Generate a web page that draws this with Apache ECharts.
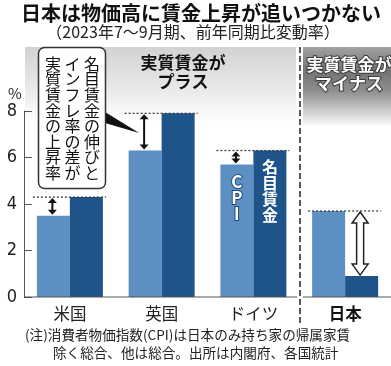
<!DOCTYPE html>
<html><head><meta charset="utf-8">
<script src="https://cdn.jsdelivr.net/npm/echarts@6/dist/echarts.min.js"></script>
<style>html,body{margin:0;padding:0;background:#fff}#c{width:391px;height:366px}</style>
</head><body><div id="c"></div>
<script>
const categories = ['米国', '英国', 'ドイツ', '日本'];
const cpi = [3.5, 6.3, 5.7, 3.7];
const nominal = [4.3, 7.9, 6.3, 0.9];
const yTicks = [0, 2, 4, 6, 8];
const titleText = '日本は物価高に賃金上昇が追いつかない';
const subtitleText = '（2023年7～9月期、前年同期比変動率）';
const noteLine1 = '(注)消費者物価指数(CPI)は日本のみ持ち家の帰属家賃';
const noteLine2 = '除く総合、他は総合。出所は内閣府、各国統計';
const plusHeader = '実質賃金が\nプラス';
const minusHeader = '実質賃金が\nマイナス';
const calloutCols = ['名目賃金の伸びと', 'インフレ率の差が', '実質賃金の上昇率'];

const LIGHT = '#5e8fc3';
const DARK = '#1e5489';
const FONT = '"Noto Sans CJK JP", "Noto Sans", sans-serif';

const chart = echarts.init(document.getElementById('c'), null, {renderer: 'canvas'});

const cpiData = cpi.map((v, i) => i === 2 ? {value: v, label: {show: true, formatter: 'C\nP\nI', position: 'insideTop', distance: 9, color: '#fff', fontWeight: 'bold', fontSize: 17, lineHeight: 16, fontFamily: FONT, textBorderColor: '#1c4a7a', textBorderWidth: 2}} : v);
const nomData = nominal.map((v, i) => i === 2 ? {value: v, label: {show: true, formatter: '名\n目\n賃\n金', position: 'insideTop', distance: 8, color: '#fff', fontWeight: 'bold', fontSize: 16, lineHeight: 16, fontFamily: FONT}} : v);

const option = {
  animation: false,
  backgroundColor: '#fff',
  textStyle: {fontFamily: FONT},
  grid: {left: 24, top: 111, width: 370, height: 186, containLabel: false},
  xAxis: {
    type: 'category', data: categories,
    axisLine: {show: false}, axisTick: {show: false},
    axisLabel: {
      margin: 8, fontSize: 16.5, color: '#222', fontFamily: FONT,
      formatter: v => v === '日本' ? '{b|' + v + '}' : v,
      rich: {b: {fontWeight: 'bold', fontSize: 16.5, color: '#111', fontFamily: FONT}}
    }
  },
  yAxis: {
    type: 'value', min: yTicks[0], max: yTicks[yTicks.length - 1], interval: 2,
    axisLine: {show: true, lineStyle: {color: '#555', width: 1}},
    axisTick: {show: true, inside: true, length: 8, lineStyle: {color: '#555'}},
    splitLine: {show: false},
    axisLabel: {margin: 7, fontSize: 18, color: '#222', fontFamily: '"Liberation Sans Narrow", "DejaVu Sans Condensed", sans-serif'}
  },
  series: [
    {type: 'bar', data: cpiData, barWidth: 33, barGap: '0%', itemStyle: {color: LIGHT}, z: 2},
    {type: 'bar', data: nomData, barWidth: 33, barGap: '0%', itemStyle: {color: DARK}, z: 2}
  ]
};
chart.setOption(option);

function px(i, v) { return chart.convertToPixel({seriesIndex: 0}, [i, v]); }

const g = [];
g.push({type: 'rect', shape: {x: 25, y: 47, width: 271, height: 75}, z: -5,
  style: {fill: new echarts.graphic.LinearGradient(0, 0, 0, 1, [{offset: 0, color: '#d2d2d2'}, {offset: 0.5, color: '#e6e6e6'}, {offset: 1, color: '#ffffff'}])}});
g.push({type: 'rect', shape: {x: 303, y: 47, width: 88, height: 80}, z: -5,
  style: {fill: new echarts.graphic.LinearGradient(0, 0, 0, 1, [{offset: 0, color: '#a2a2a2'}, {offset: 0.3, color: '#737373'}, {offset: 0.55, color: '#8e8e8e'}, {offset: 1, color: '#ffffff'}])}});
g.push({type: 'text', x: 183, y: 72, z: 5, style: {text: plusHeader, font: 'bold 17px ' + FONT, fill: '#111', align: 'center', verticalAlign: 'middle', lineHeight: 19}});
g.push({type: 'text', x: 349, y: 74, z: 5, style: {text: minusHeader, font: 'bold 17px ' + FONT, fill: '#fff', align: 'center', verticalAlign: 'middle', lineHeight: 19, stroke: '#3a3a3a', lineWidth: 2}});

const base = px(0, 0)[1];
g.push({type: 'line', z: 6, shape: {x1: 24, y1: base, x2: 297, y2: base}, style: {stroke: '#555', lineWidth: 1}});
g.push({type: 'line', z: 6, shape: {x1: 303, y1: base, x2: 391, y2: base}, style: {stroke: '#555', lineWidth: 1}});
g.push({type: 'line', z: 6, shape: {x1: 300, y1: 47, x2: 300, y2: 323}, style: {stroke: '#222', lineWidth: 1.5, lineDash: [6, 3]}});

g.push({type: 'text', x: 201, y: 13, style: {text: titleText, font: 'bold 20px ' + FONT, fill: '#111', align: 'center', verticalAlign: 'middle'}});
g.push({type: 'text', x: 193, y: 32, style: {text: subtitleText, font: '16px ' + FONT, fill: '#222', align: 'center', verticalAlign: 'middle'}});
g.push({type: 'text', x: 15, y: 93, style: {text: '%', font: '15px ' + FONT, fill: '#222', align: 'center', verticalAlign: 'middle'}});
g.push({type: 'text', x: 25, y: 335, style: {text: noteLine1, font: '13.6px ' + FONT, fill: '#222', align: 'left', verticalAlign: 'middle'}});
g.push({type: 'text', x: 53, y: 353, style: {text: noteLine2, font: '13.6px ' + FONT, fill: '#222', align: 'left', verticalAlign: 'middle'}});

function smallArrow(x, yTop, yBot) {
  const h = 5, w = 4.5;
  g.push({type: 'line', z: 10, shape: {x1: x, y1: yTop + h - 1, x2: x, y2: yBot - h + 1}, style: {stroke: '#111', lineWidth: 2}});
  g.push({type: 'polygon', z: 10, shape: {points: [[x, yTop], [x - w, yTop + h], [x + w, yTop + h]]}, style: {fill: '#111'}});
  g.push({type: 'polygon', z: 10, shape: {points: [[x, yBot], [x - w, yBot - h], [x + w, yBot - h]]}, style: {fill: '#111'}});
}
let ukArrow = null;
for (let i = 0; i < categories.length; i++) {
  const c = px(i, 0)[0];
  const lightX = c - 16.5;
  const hi = Math.max(cpi[i], nominal[i]);
  const yHi = px(i, hi)[1];
  const yC = px(i, cpi[i])[1];
  const yN = px(i, nominal[i])[1];
  g.push({type: 'line', z: 10, shape: {x1: c - 37, y1: yHi, x2: c + 36, y2: yHi}, style: {stroke: '#333', lineWidth: 1.2, lineDash: [2, 2]}});
  if (nominal[i] >= cpi[i]) {
    smallArrow(lightX - 1, yN + 1, yC - 1);
    if (i === 1) ukArrow = [lightX - 1, (yN + yC) / 2];
  } else {
    const x = c + 15, yT = yC + 1, yB = yN - 1, hw = 8, hh = 11, sw = 3.5;
    g.push({type: 'polygon', z: 10, shape: {points: [[x, yT], [x + hw, yT + hh], [x + sw, yT + hh], [x + sw, yB - hh], [x + hw, yB - hh], [x, yB], [x - hw, yB - hh], [x - sw, yB - hh], [x - sw, yT + hh], [x - hw, yT + hh]]},
      style: {fill: '#fff', stroke: '#222', lineWidth: 1.5}});
  }
}

g.push({type: 'polygon', z: 11, shape: {points: [[105, 112], [105, 123], [ukArrow[0] - 5, ukArrow[1] + 1]]}, style: {fill: '#111'}});
g.push({type: 'rect', z: 12, shape: {x: 38.5, y: 47.5, width: 67, height: 141, r: 6}, style: {fill: '#fff', stroke: '#333', lineWidth: 1.5}});
const colX = [92, 72.5, 53];
calloutCols.forEach((t, k) => {
  g.push({type: 'text', z: 13, x: colX[k], y: 56, style: {text: t.split('').join('\n'), font: '16px ' + FONT, fill: '#111', align: 'center', verticalAlign: 'top', lineHeight: 15.6}});
});

chart.setOption({graphic: {elements: g}});
</script></body></html>
